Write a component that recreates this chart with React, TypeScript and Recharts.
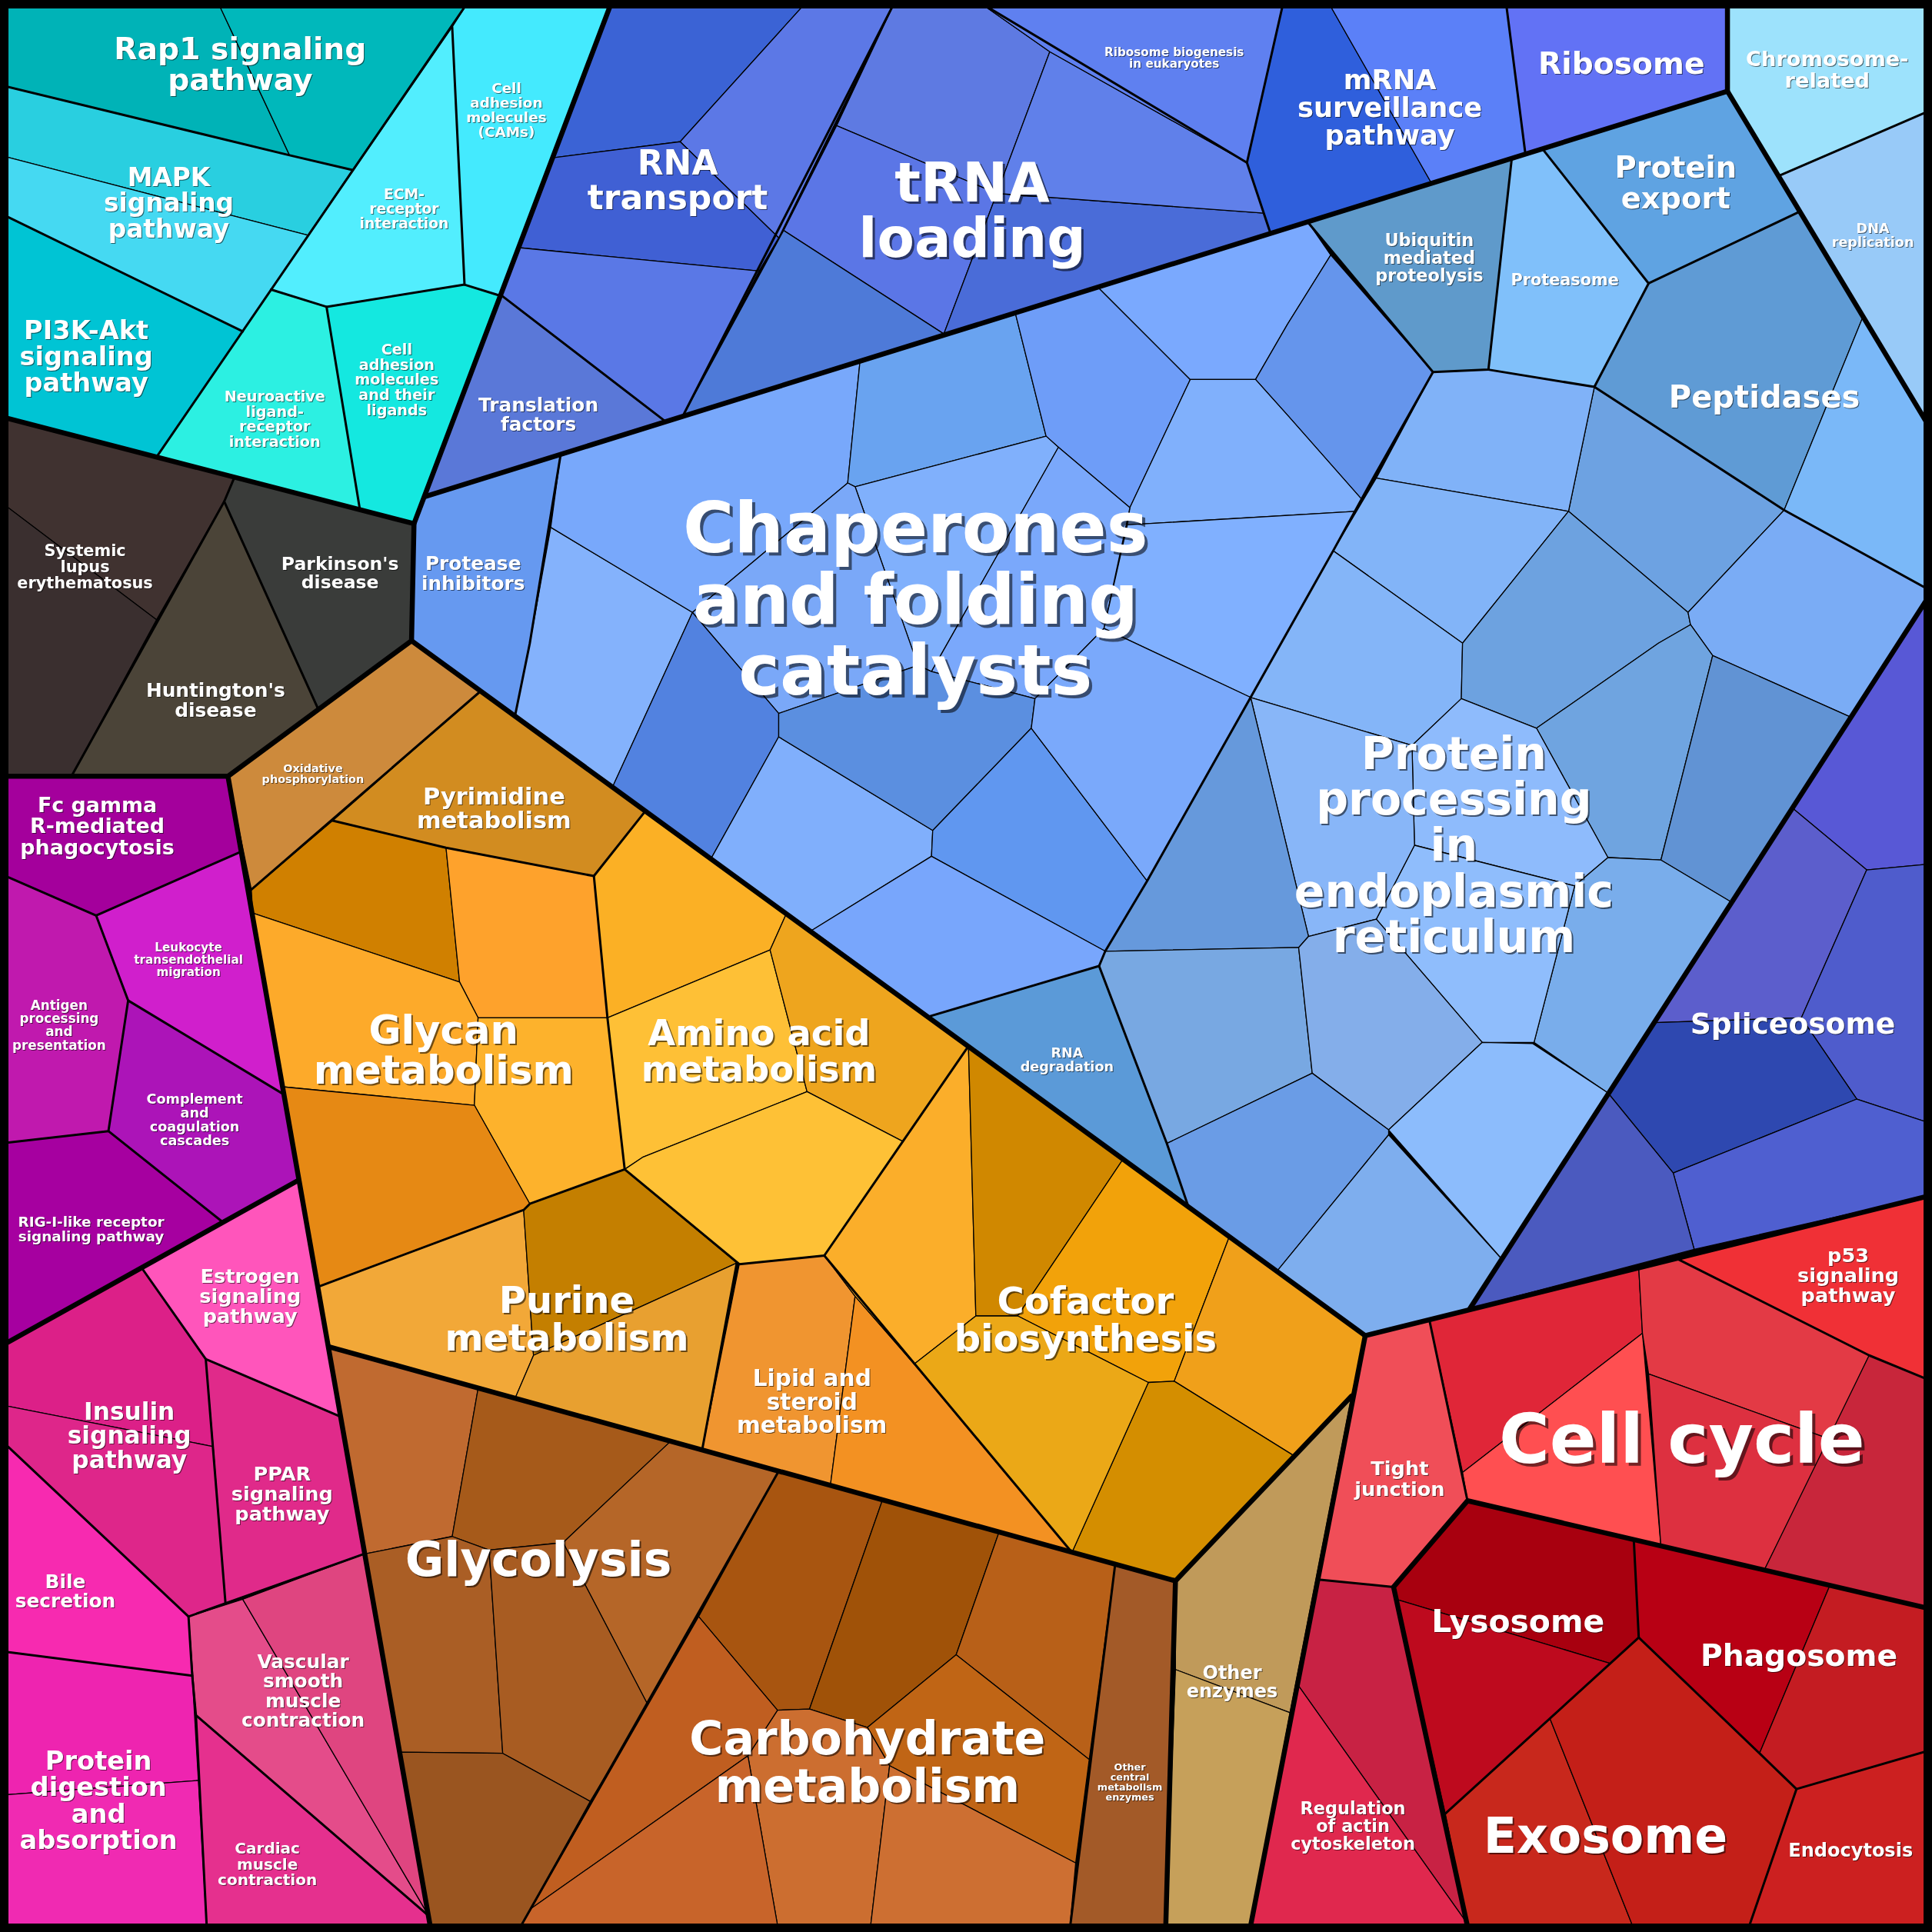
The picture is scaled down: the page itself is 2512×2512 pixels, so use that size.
import { Scatter, ScatterChart, XAxis, YAxis } from "recharts";

type Pt = [number, number];
type Cell = { id: string; pts: Pt[] };

const W = 2512;
const SPAN = 1568; // coordinate space the cells were read in
const K = W / SPAN;

// ---- cells, grouped by top-level category ----
const signalingCells: Cell[] = [
  { id: "rap1a", pts: [[0, 0], [176, 0], [235, 126], [0, 69]] },
  { id: "rap1b", pts: [[176, 0], [381, 0], [286, 138], [235, 126]] },
  { id: "mapka", pts: [[0, 69], [235, 126], [286, 138], [250, 191], [0, 126]] },
  { id: "mapkb", pts: [[0, 126], [250, 191], [197, 269], [0, 173]] },
  { id: "pi3k", pts: [[0, 173], [197, 269], [127, 371], [0, 338]] },
  { id: "cams", pts: [[381, 0], [497, 0], [406, 240], [377, 231], [367, 22]] },
  { id: "ecm", pts: [[367, 22], [377, 231], [265, 249], [220, 235]] },
  { id: "neuro", pts: [[220, 235], [265, 249], [292, 413], [127, 371]] },
  { id: "ligands", pts: [[265, 249], [377, 231], [406, 240], [336, 425], [292, 413]] },
];

const diseaseCells: Cell[] = [
  { id: "lupusa", pts: [[0, 338], [190, 388], [182, 407], [127, 503], [0, 407]] },
  { id: "lupusb", pts: [[0, 407], [127, 503], [58, 630], [0, 630]] },
  { id: "hunt", pts: [[182, 407], [258, 575], [185, 630], [58, 630]] },
  { id: "park", pts: [[190, 388], [336, 425], [334, 520], [258, 575], [182, 407]] },
];

const immuneCells: Cell[] = [
  { id: "fc", pts: [[0, 630], [185, 630], [196, 691], [78, 743], [0, 709]] },
  { id: "leuk", pts: [[78, 743], [196, 691], [230, 888], [104, 812]] },
  { id: "antigen", pts: [[0, 709], [78, 743], [104, 812], [88, 918], [0, 928]] },
  { id: "complement", pts: [[104, 812], [230, 888], [242, 958], [181, 992], [88, 918]] },
  { id: "rig", pts: [[0, 928], [88, 918], [181, 992], [0, 1093]] },
];

const endocrineCells: Cell[] = [
  { id: "estrogen", pts: [[115, 1029], [242, 958], [277, 1150], [167, 1103]] },
  { id: "insulina", pts: [[0, 1093], [115, 1029], [167, 1103], [173, 1174], [0, 1140]] },
  { id: "insulinb", pts: [[0, 1140], [173, 1174], [183, 1301], [153, 1312], [0, 1168]] },
  { id: "ppar", pts: [[167, 1103], [277, 1150], [296, 1261], [183, 1301], [173, 1174]] },
  { id: "bile", pts: [[0, 1168], [153, 1312], [156, 1360], [0, 1340]] },
  { id: "diga", pts: [[0, 1340], [156, 1360], [161, 1445], [0, 1457]] },
  { id: "digb", pts: [[0, 1457], [161, 1445], [168, 1568], [0, 1568]] },
  { id: "vasca", pts: [[153, 1312], [197, 1298], [348, 1555], [159, 1392]] },
  { id: "vascb", pts: [[197, 1298], [296, 1261], [348, 1555]] },
  { id: "cardiac", pts: [[159, 1392], [348, 1555], [350, 1568], [168, 1568]] },
];

const metabolismCells: Cell[] = [
  { id: "oxphos", pts: [[185, 630], [334, 520], [390, 561], [204, 722]] },
  { id: "pyr", pts: [[390, 561], [524, 658], [482, 711], [362, 688], [270, 666]] },
  { id: "glya", pts: [[204, 722], [270, 666], [362, 688], [373, 797], [205, 741]] },
  { id: "glyb", pts: [[362, 688], [482, 711], [493, 826], [388, 826], [373, 797]] },
  { id: "glyc", pts: [[205, 741], [373, 797], [388, 826], [385, 897], [229, 882]] },
  { id: "glyd", pts: [[388, 826], [493, 826], [507, 949], [430, 977], [385, 897]] },
  { id: "glye", pts: [[229, 882], [385, 897], [430, 977], [425, 982], [259, 1044]] },
  { id: "pura", pts: [[259, 1044], [425, 982], [433, 1100], [418, 1135], [267, 1093]] },
  { id: "purb", pts: [[425, 982], [430, 977], [507, 949], [598, 1025], [433, 1100]] },
  { id: "purc", pts: [[433, 1100], [598, 1025], [570, 1176], [418, 1135]] },
  { id: "amia", pts: [[482, 711], [524, 658], [638, 742], [625, 771], [493, 826]] },
  { id: "amib", pts: [[493, 826], [625, 771], [655, 886], [522, 939], [507, 949]] },
  { id: "amic", pts: [[625, 771], [638, 742], [786, 849], [734, 927], [655, 886]] },
  { id: "amid", pts: [[507, 949], [522, 939], [655, 886], [734, 927], [669, 1019], [600, 1026]] },
  { id: "lipa", pts: [[600, 1026], [669, 1019], [694, 1052], [674, 1205], [570, 1176]] },
  { id: "lipb", pts: [[694, 1052], [742, 1107], [870, 1260], [674, 1205]] },
  { id: "cofa", pts: [[786, 849], [792, 1068], [742, 1107], [694, 1052], [669, 1019]] },
  { id: "cofb", pts: [[786, 849], [912, 940], [826, 1068], [792, 1068]] },
  { id: "cofc", pts: [[912, 940], [998, 1003], [953, 1121], [932, 1122], [826, 1068]] },
  { id: "cofd", pts: [[998, 1003], [1108, 1084], [1097, 1133], [1051, 1182], [953, 1121]] },
  { id: "cofe", pts: [[932, 1122], [953, 1121], [1051, 1182], [954, 1283], [870, 1260]] },
  { id: "coff", pts: [[742, 1107], [792, 1068], [826, 1068], [932, 1122], [870, 1260]] },
  { id: "gl1", pts: [[267, 1093], [388, 1127], [367, 1247], [297, 1261]] },
  { id: "gl2", pts: [[388, 1127], [544, 1170], [457, 1252], [397, 1258], [367, 1247]] },
  { id: "gl3", pts: [[544, 1170], [632, 1194], [526, 1384], [457, 1252]] },
  { id: "gl4", pts: [[297, 1261], [367, 1247], [397, 1258], [408, 1423], [325, 1422]] },
  { id: "gl5", pts: [[397, 1258], [457, 1252], [526, 1384], [479, 1462], [408, 1423]] },
  { id: "gl6", pts: [[325, 1422], [408, 1423], [479, 1462], [420, 1568], [350, 1568]] },
  { id: "ca1", pts: [[632, 1194], [716, 1218], [657, 1387], [631, 1388], [567, 1312]] },
  { id: "ca2", pts: [[716, 1218], [811, 1243], [776, 1343], [704, 1402], [657, 1387]] },
  { id: "ca3", pts: [[811, 1243], [905, 1270], [884, 1428], [776, 1343]] },
  { id: "ca4", pts: [[704, 1402], [776, 1343], [884, 1428], [873, 1512], [722, 1433]] },
  { id: "ca5", pts: [[631, 1388], [657, 1387], [704, 1402], [722, 1433], [706, 1568], [632, 1568], [607, 1425]] },
  { id: "ca6", pts: [[722, 1433], [873, 1512], [868, 1568], [706, 1568]] },
  { id: "ca7", pts: [[567, 1312], [631, 1388], [607, 1425], [431, 1549]] },
  { id: "ca8", pts: [[607, 1425], [632, 1568], [420, 1568], [431, 1549]] },
  { id: "othcen", pts: [[905, 1270], [954, 1283], [946, 1568], [868, 1568]] },
  { id: "othena", pts: [[954, 1283], [1097, 1133], [1047, 1390], [954, 1355]] },
  { id: "othenb", pts: [[954, 1355], [1047, 1390], [1014, 1568], [946, 1568]] },
];

const translationCells: Cell[] = [
  { id: "t1", pts: [[497, 0], [656, 0], [552, 115], [449, 128]] },
  { id: "t2", pts: [[656, 0], [727, 0], [632, 193], [552, 115]] },
  { id: "t3", pts: [[449, 128], [552, 115], [632, 193], [616, 220], [421, 201]] },
  { id: "t4", pts: [[421, 201], [616, 220], [554, 338], [540, 342], [406, 239]] },
  { id: "tf", pts: [[406, 239], [540, 342], [345, 403]] },
  { id: "r1", pts: [[727, 0], [792, 0], [852, 42], [809, 157], [679, 102]] },
  { id: "r2", pts: [[679, 102], [809, 157], [766, 271], [636, 187]] },
  { id: "r3", pts: [[636, 187], [766, 271], [554, 338]] },
  { id: "r4", pts: [[809, 157], [1026, 173], [1031, 189], [766, 271]] },
  { id: "r5", pts: [[852, 42], [1012, 132], [1026, 173], [809, 157]] },
  { id: "ribobio", pts: [[792, 0], [1042, 0], [1012, 132], [852, 42]] },
  { id: "mrnaa", pts: [[1042, 0], [1077, 0], [1162, 149], [1031, 189], [1012, 132]] },
  { id: "mrnab", pts: [[1077, 0], [1222, 0], [1238, 125], [1162, 149]] },
  { id: "ribosome", pts: [[1222, 0], [1402, 0], [1402, 74], [1238, 125]] },
];

const chromosomeCells: Cell[] = [
  { id: "chrom", pts: [[1402, 0], [1568, 0], [1568, 89], [1443, 143], [1402, 74]] },
  { id: "dna", pts: [[1443, 143], [1568, 89], [1568, 350]] },
];

const foldingCells: Cell[] = [
  { id: "pi", pts: [[336, 425], [345, 403], [455, 369], [430, 522], [418, 581], [334, 520]] },
  { id: "ch0", pts: [[447, 428], [522, 473], [562, 497], [497, 639], [418, 581], [430, 522]] },
  { id: "ch1", pts: [[455, 369], [698, 293], [688, 392], [562, 497], [522, 473], [447, 428]] },
  { id: "ch2", pts: [[698, 293], [824, 254], [849, 354], [694, 395], [688, 392]] },
  { id: "ch3", pts: [[824, 254], [891, 233], [966, 308], [917, 412], [859, 363], [849, 354]] },
  { id: "ch4", pts: [[891, 233], [1062, 181], [1080, 207], [1045, 263], [1019, 308], [966, 308]] },
  { id: "ch5", pts: [[1045, 263], [1080, 207], [1163, 302], [1115, 387], [1105, 405], [1045, 337], [1019, 308]] },
  { id: "ch6", pts: [[966, 308], [1019, 308], [1045, 337], [1105, 405], [1100, 415], [915, 426], [917, 412]] },
  { id: "ch7", pts: [[694, 395], [849, 354], [859, 363], [756, 545], [745, 540]] },
  { id: "ch8", pts: [[562, 497], [688, 392], [694, 395], [745, 540], [632, 579]] },
  { id: "ch9", pts: [[859, 363], [917, 412], [896, 510], [840, 567], [756, 545]] },
  { id: "ch10", pts: [[915, 426], [1100, 415], [1082, 447], [1015, 566], [896, 510]] },
  { id: "d1", pts: [[562, 497], [632, 579], [632, 598], [577, 697], [497, 639]] },
  { id: "ch11", pts: [[632, 598], [757, 674], [756, 695], [659, 755], [577, 697]] },
  { id: "ch12", pts: [[632, 579], [745, 540], [756, 545], [840, 567], [837, 591], [757, 674], [632, 598]] },
  { id: "ch13", pts: [[757, 674], [837, 591], [931, 715], [897, 772], [756, 695]] },
  { id: "ch14", pts: [[659, 755], [756, 695], [897, 772], [892, 784], [754, 825]] },
  { id: "ch15", pts: [[840, 567], [896, 510], [1015, 566], [931, 715], [837, 591]] },
  { id: "rnadeg", pts: [[754, 825], [892, 784], [947, 928], [964, 978]] },
  { id: "ubiq", pts: [[1062, 181], [1227, 128], [1208, 300], [1163, 302]] },
  { id: "proteasome", pts: [[1227, 128], [1252, 121], [1338, 230], [1294, 314], [1208, 300]] },
  { id: "export", pts: [[1252, 121], [1402, 74], [1460, 172], [1338, 230]] },
  { id: "pept", pts: [[1338, 230], [1460, 172], [1512, 257], [1448, 414], [1294, 314]] },
  { id: "peptr", pts: [[1512, 257], [1568, 350], [1568, 480], [1448, 414]] },
  { id: "pa", pts: [[1294, 314], [1448, 414], [1370, 497], [1273, 415]] },
  { id: "pp1", pts: [[1163, 302], [1208, 300], [1294, 314], [1273, 415], [1117, 388]] },
  { id: "pp2", pts: [[1117, 388], [1273, 415], [1187, 522], [1082, 447]] },
  { id: "pp3", pts: [[1082, 447], [1187, 522], [1186, 567], [1146, 605], [1015, 566]] },
  { id: "pp4", pts: [[1273, 415], [1370, 497], [1372, 507], [1346, 522], [1247, 591], [1186, 567], [1187, 522]] },
  { id: "ppr2", pts: [[1448, 414], [1568, 480], [1502, 582], [1390, 532], [1372, 507], [1370, 497]] },
  { id: "ppm", pts: [[1247, 591], [1346, 522], [1372, 507], [1390, 532], [1348, 698], [1305, 696]] },
  { id: "ppdark", pts: [[1390, 532], [1502, 582], [1405, 732], [1348, 698]] },
  { id: "pp5", pts: [[1146, 605], [1186, 567], [1247, 591], [1305, 696], [1278, 719], [1148, 686]] },
  { id: "pp6", pts: [[1305, 696], [1348, 698], [1405, 732], [1305, 887], [1245, 846], [1278, 719]] },
  { id: "pp7", pts: [[1148, 686], [1278, 719], [1245, 846], [1203, 846], [1117, 746]] },
  { id: "pp8", pts: [[1015, 566], [1146, 605], [1148, 686], [1117, 746], [1062, 760]] },
  { id: "pp9", pts: [[1015, 566], [1062, 760], [1054, 769], [897, 772], [931, 715]] },
  { id: "pp10", pts: [[897, 772], [1054, 769], [1065, 871], [947, 928], [892, 784]] },
  { id: "pp11", pts: [[1062, 760], [1117, 746], [1203, 846], [1127, 917], [1065, 871], [1054, 769]] },
  { id: "pp12", pts: [[947, 928], [1065, 871], [1127, 917], [1127, 921], [1037, 1031], [964, 978]] },
  { id: "pp13", pts: [[1037, 1031], [1127, 921], [1219, 1022], [1193, 1062], [1108, 1084]] },
  { id: "pp14", pts: [[1127, 917], [1203, 846], [1244, 847], [1305, 887], [1219, 1022]] },
];

const spliceCells: Cell[] = [
  { id: "s1", pts: [[1568, 480], [1568, 701], [1515, 706], [1455, 656]] },
  { id: "s2", pts: [[1455, 656], [1515, 706], [1462, 826], [1343, 830]] },
  { id: "s3", pts: [[1515, 706], [1568, 701], [1568, 912], [1507, 892], [1462, 826]] },
  { id: "s4", pts: [[1343, 830], [1462, 826], [1507, 892], [1358, 952], [1305, 887]] },
  { id: "s5", pts: [[1507, 892], [1568, 912], [1568, 970], [1375, 1014], [1358, 952]] },
  { id: "s6", pts: [[1305, 887], [1358, 952], [1375, 1014], [1193, 1062]] },
];

const cellularCells: Cell[] = [
  { id: "tj", pts: [[1108, 1084], [1160, 1071], [1191, 1218], [1131, 1288], [1070, 1282]] },
  { id: "cc1", pts: [[1160, 1071], [1330, 1029], [1333, 1082], [1187, 1195]] },
  { id: "cc2", pts: [[1187, 1195], [1333, 1082], [1348, 1255], [1191, 1218]] },
  { id: "cc3", pts: [[1330, 1029], [1362, 1022], [1517, 1100], [1485, 1168], [1338, 1115], [1333, 1082]] },
  { id: "cc4", pts: [[1338, 1115], [1485, 1168], [1432, 1274], [1348, 1255]] },
  { id: "cc5", pts: [[1517, 1100], [1568, 1121], [1568, 1306], [1432, 1274]] },
  { id: "p53", pts: [[1362, 1022], [1568, 970], [1568, 1121], [1517, 1100]] },
  { id: "reg1", pts: [[1070, 1282], [1131, 1288], [1190, 1560], [1053, 1367]] },
  { id: "reg2", pts: [[1053, 1367], [1190, 1560], [1192, 1568], [1014, 1568]] },
  { id: "lys1", pts: [[1131, 1288], [1191, 1218], [1326, 1250], [1330, 1329], [1307, 1350], [1133, 1298]] },
  { id: "lys2", pts: [[1133, 1298], [1307, 1350], [1258, 1395], [1173, 1472]] },
  { id: "phag", pts: [[1326, 1250], [1485, 1287], [1428, 1423], [1330, 1329]] },
  { id: "phagr", pts: [[1485, 1287], [1568, 1306], [1568, 1420], [1458, 1452], [1428, 1423]] },
  { id: "ex1", pts: [[1173, 1472], [1258, 1395], [1327, 1568], [1192, 1568]] },
  { id: "ex2", pts: [[1258, 1395], [1330, 1329], [1428, 1423], [1458, 1452], [1418, 1568], [1327, 1568]] },
  { id: "endo", pts: [[1458, 1452], [1568, 1420], [1568, 1568], [1418, 1568]] },
];

const CELL_COLORS: Record<string, string> = {
  rap1a: "#00b3b7", rap1b: "#00b8bb", mapka: "#29cfe0", mapkb: "#45d9f2", pi3k: "#00c4d4",
  cams: "#44eafe", ecm: "#52eefe", neuro: "#2cf0e2", ligands: "#14e8e0",
  lupusa: "#403230", lupusb: "#3a2f2f", hunt: "#4b4438", park: "#3a3c3a",
  fc: "#a4009c", leuk: "#d01fcc", antigen: "#c019ae", complement: "#ac14b8", rig: "#a600a0",
  estrogen: "#ff55bb", insulina: "#dc2088", insulinb: "#de268a", ppar: "#e02a8a", bile: "#f72ab0",
  diga: "#ee24b0", digb: "#f02ab2", vasca: "#e44c8a", vascb: "#df4580", cardiac: "#e5308e",
  oxphos: "#cd8a3c", pyr: "#d28c20", glya: "#d08000", glyb: "#fea22c", glyc: "#fdaa2a",
  glyd: "#fdb22c", glye: "#e68914", pura: "#f2a838", purb: "#c47f00", purc: "#e8a030",
  amia: "#fbb025", amib: "#fec036", amic: "#eea51e", amid: "#fec136", lipa: "#f09530",
  lipb: "#f39122", cofa: "#fbae2a", cofb: "#d08800", cofc: "#f2a20a", cofd: "#f0a01a",
  cofe: "#d48e00", coff: "#eba817",
  gl1: "#c06a30", gl2: "#a65a1a", gl3: "#b56628", gl4: "#aa5e25", gl5: "#a85c22", gl6: "#9a5520",
  ca1: "#a85510", ca2: "#a05208", ca3: "#b86018", ca4: "#c06515", ca5: "#cc6e30", ca6: "#cd6f32",
  ca7: "#c05e20", ca8: "#c8642a", othcen: "#a35a28", othena: "#c09a5a", othenb: "#c6a05a",
  t1: "#3b63d5", t2: "#5c78e6", t3: "#4060d4", t4: "#5a78e6", tf: "#5a78d8",
  r1: "#5e7ae2", r2: "#5b76e6", r3: "#4e7ad8", r4: "#4a6cd8", r5: "#6080ea",
  ribobio: "#5f80f0", mrnaa: "#2f5fdc", mrnab: "#5b80f8", ribosome: "#6272f5",
  chrom: "#9de2fc", dna: "#98caf8",
  pi: "#6699f0", ch0: "#84b2fc", ch1: "#78a8fb", ch2: "#69a3f0", ch3: "#6e9df8", ch4: "#7aa9fe",
  ch5: "#6595ec", ch6: "#80b0fc", ch7: "#80b0fc", ch8: "#7aa8f8", ch9: "#7aa8fb", ch10: "#80b0ff",
  d1: "#5282e0", ch11: "#80affc", ch12: "#5b8fe0", ch13: "#6097f0", ch14: "#78a6fc", ch15: "#7aa9fb",
  rnadeg: "#5b9ad8", ubiq: "#5f9acb", proteasome: "#80c0fa", export: "#5fa3e2", pept: "#5f9bd5",
  peptr: "#7ab8f8", pa: "#6da2e2", pp1: "#80b2f8", pp2: "#82b4f8", pp3: "#84b5f8", pp4: "#6da2e0",
  ppr2: "#7aacf5", ppm: "#6fa4e0", ppdark: "#6193d4", pp5: "#8ebbfc", pp6: "#79adeb", pp7: "#8fbdfc",
  pp8: "#88b6f8", pp9: "#6699dc", pp10: "#78a8e2", pp11: "#84aeea", pp12: "#6a9ce6", pp13: "#7eaeee",
  pp14: "#8cbcfc",
  s1: "#5858d6", s2: "#5c5ecc", s3: "#4f5ccc", s4: "#2e48b0", s5: "#4f5fd0", s6: "#4b5abf",
  tj: "#f04e58", cc1: "#e02638", cc2: "#ff4f51", cc3: "#e33a45", cc4: "#dd3040", cc5: "#c8263b",
  p53: "#f03036", reg1: "#c82244", reg2: "#e0284e", lys1: "#a8000f", lys2: "#be0a1e",
  phag: "#b80014", phagr: "#c41c22", ex1: "#c8281c", ex2: "#c41f18", endo: "#cc2020",
};

// pathway borders
const pathwayLines: Pt[][] = [
  [[0, 69], [235, 126], [286, 138]],
  [[381, 0], [127, 371]],
  [[0, 173], [197, 269]],
  [[367, 22], [377, 231], [406, 240]],
  [[220, 235], [265, 249], [377, 231]],
  [[265, 249], [292, 413]],
  [[190, 388], [182, 407], [58, 630]],
  [[182, 407], [258, 575]],
  [[0, 709], [78, 743], [196, 691]],
  [[78, 743], [104, 812], [230, 888]],
  [[104, 812], [88, 918], [0, 928]],
  [[88, 918], [181, 992]],
  [[115, 1029], [167, 1103], [277, 1150]],
  [[167, 1103], [183, 1301]],
  [[0, 1168], [153, 1312], [296, 1261]],
  [[153, 1312], [156, 1360], [0, 1340]],
  [[156, 1360], [159, 1392], [168, 1568]],
  [[159, 1392], [348, 1555]],
  [[390, 561], [204, 722]],
  [[270, 666], [362, 688], [482, 711], [524, 658]],
  [[482, 711], [493, 826], [507, 949], [430, 977], [425, 982], [259, 1044]],
  [[507, 949], [600, 1026], [669, 1019], [786, 849]],
  [[598, 1025], [570, 1176]],
  [[669, 1019], [870, 1260]],
  [[632, 1194], [420, 1568]],
  [[905, 1270], [868, 1568]],
  [[727, 0], [554, 338]],
  [[406, 239], [540, 342]],
  [[792, 0], [1012, 132], [1031, 189]],
  [[1042, 0], [1012, 132]],
  [[1222, 0], [1238, 125]],
  [[455, 369], [430, 522], [418, 581]],
  [[1062, 181], [1163, 302], [1115, 387], [1082, 447], [1015, 566], [931, 715], [897, 772], [892, 784]],
  [[754, 825], [892, 784], [947, 928], [964, 978]],
  [[1227, 128], [1208, 300], [1163, 302]],
  [[1208, 300], [1294, 314], [1338, 230], [1252, 121]],
  [[1338, 230], [1460, 172]],
  [[1294, 314], [1448, 414], [1568, 480]],
  [[1443, 143], [1568, 89]],
  [[1160, 1071], [1191, 1218]],
  [[1131, 1288], [1070, 1282]],
  [[1362, 1022], [1517, 1100], [1568, 1121]],
  [[1326, 1250], [1330, 1329], [1173, 1472]],
  [[1330, 1329], [1428, 1423], [1458, 1452], [1418, 1568]],
  [[1458, 1452], [1568, 1420]],
];

// category borders
const groupLines: Pt[][] = [
  [[497, 0], [336, 425], [334, 520], [185, 630], [350, 1568]],
  [[0, 338], [336, 425]],
  [[0, 630], [185, 630]],
  [[242, 958], [0, 1093]],
  [[345, 403], [1402, 74], [1402, 0]],
  [[1402, 74], [1568, 350]],
  [[334, 520], [1108, 1084], [1568, 970]],
  [[1568, 480], [1193, 1062]],
  [[1108, 1084], [1014, 1568]],
  [[1097, 1133], [954, 1283], [946, 1568]],
  [[267, 1093], [954, 1283]],
  [[1568, 1306], [1191, 1218], [1131, 1288], [1192, 1568]],
];

const frame: Pt[] = [[0, 0], [SPAN, 0], [SPAN, SPAN], [0, SPAN]];

const labels: { lines: string[]; x: number; y: number }[] = [
  { lines: ["Rap1 signaling", "pathway"], x: 195, y: 52 },
  { lines: ["MAPK", "signaling", "pathway"], x: 137, y: 165 },
  { lines: ["PI3K-Akt", "signaling", "pathway"], x: 70, y: 289 },
  { lines: ["Cell", "adhesion", "molecules", "(CAMs)"], x: 411, y: 89 },
  { lines: ["ECM-", "receptor", "interaction"], x: 328, y: 169 },
  { lines: ["Neuroactive", "ligand-", "receptor", "interaction"], x: 223, y: 340 },
  { lines: ["Cell", "adhesion", "molecules", "and their", "ligands"], x: 322, y: 308 },
  { lines: ["Systemic", "lupus", "erythematosus"], x: 69, y: 460 },
  { lines: ["Parkinson's", "disease"], x: 276, y: 465 },
  { lines: ["Huntington's", "disease"], x: 175, y: 568 },
  { lines: ["Fc gamma", "R-mediated", "phagocytosis"], x: 79, y: 670 },
  { lines: ["Leukocyte", "transendothelial", "migration"], x: 153, y: 779 },
  { lines: ["Antigen", "processing", "and", "presentation"], x: 48, y: 832 },
  { lines: ["Complement", "and", "coagulation", "cascades"], x: 158, y: 909 },
  { lines: ["RIG-I-like receptor", "signaling pathway"], x: 74, y: 997 },
  { lines: ["Estrogen", "signaling", "pathway"], x: 203, y: 1052 },
  { lines: ["Insulin", "signaling", "pathway"], x: 105, y: 1165 },
  { lines: ["PPAR", "signaling", "pathway"], x: 229, y: 1212 },
  { lines: ["Bile", "secretion"], x: 53, y: 1291 },
  { lines: ["Protein", "digestion", "and", "absorption"], x: 80, y: 1461 },
  { lines: ["Vascular", "smooth", "muscle", "contraction"], x: 246, y: 1372 },
  { lines: ["Cardiac", "muscle", "contraction"], x: 217, y: 1513 },
  { lines: ["Oxidative", "phosphorylation"], x: 254, y: 628 },
  { lines: ["Pyrimidine", "metabolism"], x: 401, y: 656 },
  { lines: ["Glycan", "metabolism"], x: 360, y: 852 },
  { lines: ["Amino acid", "metabolism"], x: 616, y: 853 },
  { lines: ["Purine", "metabolism"], x: 460, y: 1070 },
  { lines: ["Cofactor", "biosynthesis"], x: 881, y: 1071 },
  { lines: ["Lipid and", "steroid", "metabolism"], x: 659, y: 1137 },
  { lines: ["Glycolysis"], x: 437, y: 1266 },
  { lines: ["Carbohydrate", "metabolism"], x: 704, y: 1430 },
  { lines: ["Other", "central", "metabolism", "enzymes"], x: 917, y: 1446 },
  { lines: ["Other", "enzymes"], x: 1000, y: 1365 },
  { lines: ["RNA", "transport"], x: 550, y: 146 },
  { lines: ["tRNA", "loading"], x: 789, y: 171 },
  { lines: ["Ribosome biogenesis", "in eukaryotes"], x: 953, y: 47 },
  { lines: ["mRNA", "surveillance", "pathway"], x: 1128, y: 87 },
  { lines: ["Ribosome"], x: 1316, y: 51 },
  { lines: ["Chromosome-", "related"], x: 1483, y: 56 },
  { lines: ["DNA", "replication"], x: 1520, y: 191 },
  { lines: ["Translation", "factors"], x: 437, y: 336 },
  { lines: ["Protease", "inhibitors"], x: 384, y: 465 },
  { lines: ["Chaperones", "and folding", "catalysts"], x: 743, y: 486 },
  { lines: ["Ubiquitin", "mediated", "proteolysis"], x: 1160, y: 209 },
  { lines: ["Proteasome"], x: 1270, y: 227 },
  { lines: ["Protein", "export"], x: 1360, y: 148 },
  { lines: ["Peptidases"], x: 1432, y: 322 },
  { lines: ["Protein", "processing", "in", "endoplasmic", "reticulum"], x: 1180, y: 686 },
  { lines: ["RNA", "degradation"], x: 866, y: 860 },
  { lines: ["Spliceosome"], x: 1455, y: 831 },
  { lines: ["p53", "signaling", "pathway"], x: 1500, y: 1035 },
  { lines: ["Cell cycle"], x: 1365, y: 1168 },
  { lines: ["Tight", "junction"], x: 1136, y: 1200 },
  { lines: ["Lysosome"], x: 1232, y: 1316 },
  { lines: ["Phagosome"], x: 1460, y: 1343 },
  { lines: ["Exosome"], x: 1303, y: 1490 },
  { lines: ["Endocytosis"], x: 1502, y: 1502 },
  { lines: ["Regulation", "of actin", "cytoskeleton"], x: 1098, y: 1482 },
];

// font size per label, in the same units as the coordinates
const LABEL_SIZE: Record<string, number> = {
  "Rap1 signaling": 24.5, MAPK: 20.5, "PI3K-Akt": 21, Cell: 11.5, "ECM-": 11.7, Neuroactive: 12,
  Systemic: 13, "Parkinson's": 14.7, "Huntington's": 15.5, "Fc gamma": 16.8, Leukocyte: 9.5,
  Antigen: 10.5, Complement: 11, "RIG-I-like receptor": 11.5, Estrogen: 16, Insulin: 19.5, PPAR: 16,
  Bile: 15.5, Protein: 21, Vascular: 15.5, Cardiac: 12.5, Oxidative: 9, Pyrimidine: 19, Glycan: 32,
  "Amino acid": 29, Purine: 30, Cofactor: 30, "Lipid and": 18.5, Glycolysis: 38.5, Carbohydrate: 37.5,
  Other: 15, RNA: 27.5, tRNA: 44, "Ribosome biogenesis": 9.5, mRNA: 22, Ribosome: 24.5,
  "Chromosome-": 17, DNA: 11, Translation: 15.5, Protease: 15.5, Chaperones: 56.5, Ubiquitin: 14,
  Proteasome: 13, Peptidases: 25, Spliceosome: 23.5, p53: 16, "Cell cycle": 56, Tight: 16,
  Lysosome: 25.5, Phagosome: 24.5, Exosome: 39.5, Endocytosis: 15, Regulation: 14,
};

function labelSize(l: { lines: string[]; x: number; y: number }) {
  const first = l.lines[0];
  if (first === "Cell" && l.lines.length === 5) return 12;
  if (first === "Other" && l.lines.length === 4) return 8;
  if (first === "Protein" && l.lines[1] === "export") return 24;
  if (first === "Protein" && l.lines[1] === "processing") return 36.5;
  if (first === "RNA" && l.lines[1] === "degradation") return 11;
  return LABEL_SIZE[first] ?? 14;
}

const ALL_CELLS: Cell[] = [
  ...signalingCells,
  ...diseaseCells,
  ...immuneCells,
  ...endocrineCells,
  ...metabolismCells,
  ...translationCells,
  ...chromosomeCells,
  ...foldingCells,
  ...spliceCells,
  ...cellularCells,
];

const toData = (pts: Pt[]) => pts.map(([x, y]) => ({ x, y }));

// draws the series' scaled points as one path instead of a line of dots
function pathOf(fill: string, width: number, closed: boolean) {
  return (props: any) => {
    const pts = (props.points || []).filter((p: any) => p.x != null && p.y != null);
    if (!pts.length) return <g />;
    const d =
      pts.map((p: any, i: number) => `${i ? "L" : "M"}${p.x},${p.y}`).join("") + (closed ? "Z" : "");
    return (
      <path d={d} fill={fill} stroke="#000" strokeWidth={width} strokeLinejoin="round" strokeLinecap="round" />
    );
  };
}

const noDot = () => <g />;

const labelData = labels.map((l) => ({ x: l.x, y: l.y, lines: l.lines, size: labelSize(l) }));

function renderLabel(props: any) {
  const { cx, cy, payload } = props;
  if (cx == null || cy == null || !payload) return <g />;
  const fs = payload.size * K;
  const lh = fs * 1.02;
  const top = cy - ((payload.lines.length - 1) * lh) / 2;
  const off = Math.max(1.5, fs * 0.045);
  return (
    <text
      x={cx}
      y={top}
      textAnchor="middle"
      dominantBaseline="central"
      fontFamily="DejaVu Sans, Verdana, sans-serif"
      fontWeight={700}
      fontSize={fs}
      fill="#ffffff"
      style={{ filter: `drop-shadow(${off}px ${off}px 0px rgba(0,0,0,0.55))` }}
    >
      {payload.lines.map((t: string, i: number) => (
        <tspan key={i} x={cx} y={top + i * lh}>
          {t}
        </tspan>
      ))}
    </text>
  );
}

export default function App() {
  return (
    <div style={{ position: "absolute", left: 0, top: 0, width: W, height: W, background: "#000" }}>
      <ScatterChart width={W} height={W} margin={{ top: 0, right: 0, bottom: 0, left: 0 }}>
        <XAxis type="number" dataKey="x" domain={[0, SPAN]} allowDataOverflow hide />
        <YAxis type="number" dataKey="y" domain={[0, SPAN]} allowDataOverflow reversed hide />
        {ALL_CELLS.map((c) => (
          <Scatter
            key={c.id}
            data={toData(c.pts)}
            line={pathOf(CELL_COLORS[c.id], 1.3, true)}
            shape={noDot}
            isAnimationActive={false}
          />
        ))}
        {pathwayLines.map((pts, i) => (
          <Scatter
            key={`pw${i}`}
            data={toData(pts)}
            line={pathOf("none", 3, false)}
            shape={noDot}
            isAnimationActive={false}
          />
        ))}
        {groupLines.map((pts, i) => (
          <Scatter
            key={`gr${i}`}
            data={toData(pts)}
            line={pathOf("none", 6.5, false)}
            shape={noDot}
            isAnimationActive={false}
          />
        ))}
        <Scatter data={toData(frame)} line={pathOf("none", 22, true)} shape={noDot} isAnimationActive={false} />
        <Scatter data={labelData} shape={renderLabel} isAnimationActive={false} />
      </ScatterChart>
    </div>
  );
}
